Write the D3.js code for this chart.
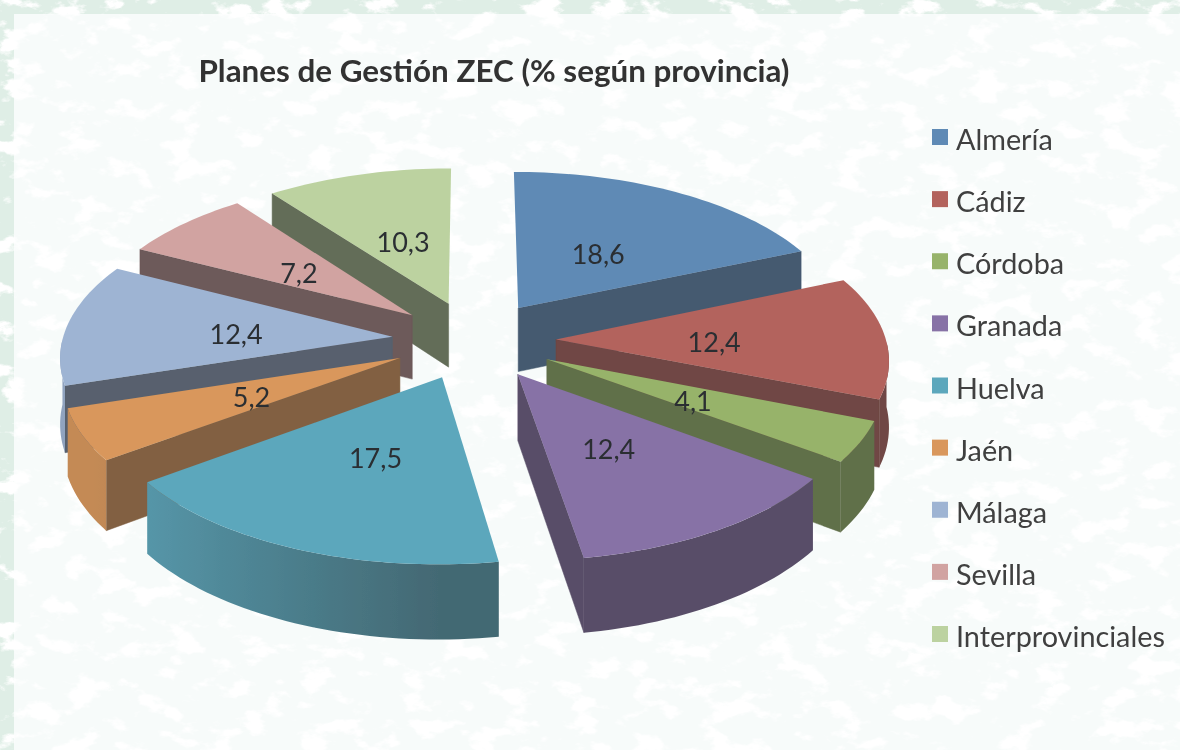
<!DOCTYPE html>
<html>
<head>
<meta charset="utf-8">
<script src="https://cdn.jsdelivr.net/npm/d3@7"></script>
<style>
  html, body { margin: 0; padding: 0; background: #dfeee6; overflow: hidden; }
  text { font-family: Lato, "Open Sans", sans-serif; }
</style>
</head>
<body>
<svg id="chart" width="1180" height="750"></svg>
<script>
// Chart data
const categories = ["Almería", "Cádiz", "Córdoba", "Granada", "Huelva", "Jaén", "Málaga", "Sevilla", "Interprovinciales"];
const values = [18.6, 12.4, 4.1, 12.4, 17.5, 5.2, 12.4, 7.2, 10.3];
const colors = ["#5f8ab5", "#b3635d", "#97b36a", "#8772a6", "#5ca7bc", "#d9975b", "#9eb4d3", "#d1a3a1", "#bcd2a0"];
const titleText = "Planes de Gestión ZEC (% según provincia)";

// Pie geometry: a flat disc seen from above, with some perspective
const cx = 474, cy = 340;
const radius = 330, explode = 82, depth = 65;
const tilt = 0.478, eye = 3000;

const width = 1180, height = 750;
const svg = d3.select("#chart");

// Page background and the mottled white texture
const defs = svg.append("defs");
const mottle = defs.append("filter")
    .attr("id", "mottle")
    .attr("x", 0).attr("y", 0).attr("width", "100%").attr("height", "100%");
mottle.append("feTurbulence")
    .attr("type", "fractalNoise")
    .attr("baseFrequency", "0.03 0.05")
    .attr("numOctaves", 5)
    .attr("seed", 7);
mottle.append("feColorMatrix")
    .attr("values", "0 0 0 0 1  0 0 0 0 1  0 0 0 0 1  9 0 0 0 -4.9");
defs.append("filter").attr("id", "soft")
    .append("feGaussianBlur").attr("stdDeviation", 0.55);

svg.append("rect").attr("width", width).attr("height", height).attr("fill", "#dfeee6");
svg.append("rect").attr("x", 14).attr("y", 14)
    .attr("width", width - 14).attr("height", height - 14)
    .attr("fill", "#f7fbfa");
svg.append("rect").attr("width", width).attr("height", height)
    .attr("filter", "url(#mottle)");

const chart = svg.append("g").attr("filter", "url(#soft)");

// Project disc coordinates to the screen, z goes downwards
function project(px, py, z) {
    const f = eye / (eye - py);
    return [cx + px * f, cy + py * tilt * f + z * f];
}

// Point of a slice at angle a and distance r from its own apex
function slicePoint(d, a, r, z) {
    const mid = (d.startAngle + d.endAngle) / 2;
    const px = explode * Math.sin(mid) + r * Math.sin(a);
    const py = -explode * Math.cos(mid) - r * Math.cos(a);
    return project(px, py, z);
}

const line = d3.line();
const shade = (color, m) => d3.interpolateRgb(color, "#2a2a2a")(m);

const pie = d3.pie().sort(null).value(d => d.value);
const slices = pie(categories.map((name, i) => ({ name, value: values[i], color: colors[i] })));

// Back slices first, front ones painted over them
const ordered = slices.slice().sort((a, b) =>
    Math.cos((b.startAngle + b.endAngle) / 2) - Math.cos((a.startAngle + a.endAngle) / 2));

ordered.forEach((d, idx) => {
    const g = chart.append("g").attr("class", "slice");
    const color = d.data.color;
    // pale slices need a stronger darkening on the cut faces
    const cutColor = shade(color, d3.hsl(color).l > 0.7 ? 0.6 : 0.5);

    // Cut faces, only those turned towards the viewer
    [[d.startAngle, -Math.sin(d.startAngle)], [d.endAngle, Math.sin(d.endAngle)]].forEach(([a, facing]) => {
        if (facing <= 0) return;
        g.append("path")
            .attr("d", line([
                slicePoint(d, a, 0, 0), slicePoint(d, a, radius, 0),
                slicePoint(d, a, radius, depth), slicePoint(d, a, 0, depth)
            ]) + "Z")
            .attr("fill", cutColor)
            .attr("stroke", cutColor)
            .attr("stroke-width", 0.5);
    });

    const step = Math.PI / 120;
    const steps = d3.range(d.startAngle, d.endAngle, step).concat(d.endAngle);

    // Outer wall, front half only, with a left to right gradient
    const front = steps.filter(a => Math.cos(a) <= 0);
    if (front.length > 1) {
        const xs = front.map(a => slicePoint(d, a, radius, 0)[0]);
        const x0 = xs[0], x1 = xs[xs.length - 1];
        const grad = defs.append("linearGradient")
            .attr("id", `rim-${idx}`)
            .attr("gradientUnits", "userSpaceOnUse")
            .attr("x1", x0).attr("x2", x1).attr("y1", 0).attr("y2", 0);
        front.forEach((a, i) => {
            const m = Math.max(0.12, Math.min(0.5, 0.5 + 0.45 * Math.sin(a)));
            grad.append("stop")
                .attr("offset", (xs[i] - x0) / (x1 - x0))
                .attr("stop-color", shade(color, m));
        });
        const wall = front.map(a => slicePoint(d, a, radius, 0))
            .concat(front.slice().reverse().map(a => slicePoint(d, a, radius, depth)));
        g.append("path")
            .attr("d", line(wall) + "Z")
            .attr("fill", `url(#rim-${idx})`);
    }

    // Top face
    const rim = steps.map(a => slicePoint(d, a, radius, 0));
    g.append("path")
        .attr("d", line([slicePoint(d, d.startAngle, 0, 0), ...rim]) + "Z")
        .attr("fill", color);
});

// Value labels
chart.selectAll(".value-label")
    .data(slices)
    .enter().append("text")
    .attr("class", "value-label")
    .attr("transform", d => {
        const mid = (d.startAngle + d.endAngle) / 2;
        const p = slicePoint(d, mid, radius * 0.48, 0);
        return `translate(${p[0]},${p[1] + 4})`;
    })
    .attr("text-anchor", "middle")
    .attr("dy", "0.35em")
    .attr("font-size", 27)
    .attr("fill", "#2b2f33")
    .text(d => d.data.value.toFixed(1).replace(".", ","));

// Title
chart.append("text")
    .attr("x", 494)
    .attr("y", 82)
    .attr("text-anchor", "middle")
    .attr("font-size", 31.4)
    .attr("font-weight", 700)
    .attr("fill", "#333")
    .text(titleText);

// Legend
const legendY = d3.scalePoint().domain(categories).range([138, 635]);
const legend = chart.selectAll(".legend-row")
    .data(categories)
    .enter().append("g")
    .attr("class", "legend-row")
    .attr("transform", d => `translate(932,${legendY(d)})`);

legend.append("rect")
    .attr("y", -9)
    .attr("width", 16)
    .attr("height", 16)
    .attr("fill", (d, i) => colors[i]);

legend.append("text")
    .attr("x", 24)
    .attr("y", 2)
    .attr("dy", "0.35em")
    .attr("font-size", 28.8)
    .attr("fill", "#404040")
    .text(d => d);
</script>
</body>
</html>
